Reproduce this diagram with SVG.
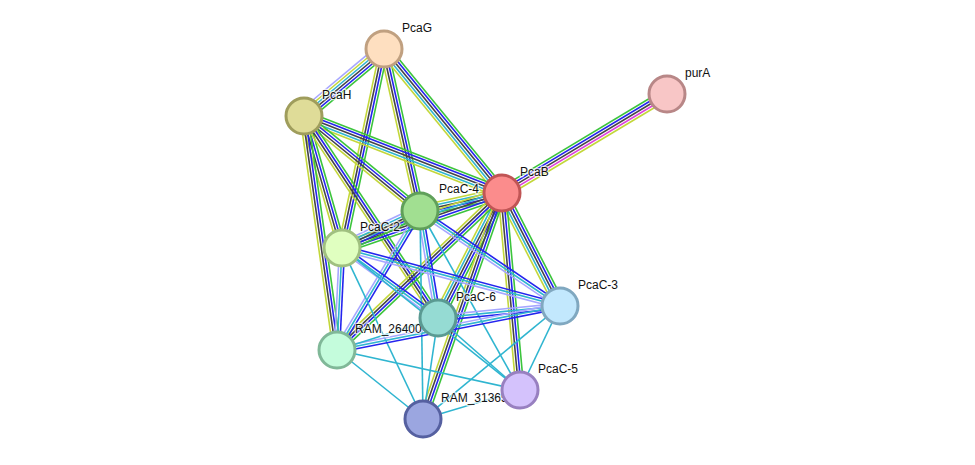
<svg xmlns="http://www.w3.org/2000/svg" width="975" height="465" viewBox="0 0 975 465">
<style>
line{stroke-width:1.6;fill:none}
.g{stroke:#3cc43c}.b{stroke:#2424ee}.k{stroke:#454545}.c{stroke:#2fb5d0}.y{stroke:#c3d73a}.h{stroke:#a6a6ff}.m{stroke:#dd3fdd}
.n{stroke-width:3}
text{font-family:"Liberation Sans",Arial,sans-serif;font-size:12px;fill:#111;stroke:#fff;stroke-width:2.5;stroke-opacity:0.7;paint-order:stroke}
</style>
<rect width="975" height="465" fill="#fff"/>
<g id="edges">
<g transform="translate(384,49) rotate(140.06)"><line class="g" x2="104.35" y1="-6.5" y2="-6.5"/><line class="b" x2="104.35" y1="-3.9" y2="-3.9"/><line class="k" x2="104.35" y1="-1.3" y2="-1.3"/><line class="c" x2="104.35" y1="1.3" y2="1.3"/><line class="y" x2="104.35" y1="3.9" y2="3.9"/><line class="h" x2="104.35" y1="6.5" y2="6.5"/></g>
<g transform="translate(384,49) rotate(77.47)"><line class="g" x2="165.95" y1="-3.9" y2="-3.9"/><line class="b" x2="165.95" y1="-1.3" y2="-1.3"/><line class="k" x2="165.95" y1="1.3" y2="1.3"/><line class="y" x2="165.95" y1="3.9" y2="3.9"/></g>
<g transform="translate(384,49) rotate(50.67)"><line class="g" x2="186.17" y1="-5.2" y2="-5.2"/><line class="b" x2="186.17" y1="-2.6" y2="-2.6"/><line class="k" x2="186.17"/><line class="c" x2="186.17" y1="2.6" y2="2.6"/><line class="y" x2="186.17" y1="5.2" y2="5.2"/></g>
<g transform="translate(384,49) rotate(101.92)"><line class="g" x2="203.38" y1="-3.9" y2="-3.9"/><line class="b" x2="203.38" y1="-1.3" y2="-1.3"/><line class="k" x2="203.38" y1="1.3" y2="1.3"/><line class="y" x2="203.38" y1="3.9" y2="3.9"/></g>
<g transform="translate(502,193) rotate(-30.96)"><line class="g" x2="192.42" y1="-5.2" y2="-5.2"/><line class="b" x2="192.42" y1="-2.6" y2="-2.6"/><line class="k" x2="192.42"/><line class="m" x2="192.42" y1="2.6" y2="2.6"/><line class="y" x2="192.42" y1="5.2" y2="5.2"/></g>
<g transform="translate(304,116) rotate(21.25)"><line class="g" x2="212.44" y1="-5.2" y2="-5.2"/><line class="b" x2="212.44" y1="-2.6" y2="-2.6"/><line class="k" x2="212.44"/><line class="c" x2="212.44" y1="2.6" y2="2.6"/><line class="y" x2="212.44" y1="5.2" y2="5.2"/></g>
<g transform="translate(304,116) rotate(39.32)"><line class="g" x2="149.94" y1="-3.9" y2="-3.9"/><line class="b" x2="149.94" y1="-1.3" y2="-1.3"/><line class="k" x2="149.94" y1="1.3" y2="1.3"/><line class="y" x2="149.94" y1="3.9" y2="3.9"/></g>
<g transform="translate(304,116) rotate(73.94)"><line class="g" x2="137.36" y1="-3.9" y2="-3.9"/><line class="b" x2="137.36" y1="-1.3" y2="-1.3"/><line class="k" x2="137.36" y1="1.3" y2="1.3"/><line class="y" x2="137.36" y1="3.9" y2="3.9"/></g>
<g transform="translate(304,116) rotate(81.97)"><line class="g" x2="236.32" y1="-3.9" y2="-3.9"/><line class="b" x2="236.32" y1="-1.3" y2="-1.3"/><line class="k" x2="236.32" y1="1.3" y2="1.3"/><line class="y" x2="236.32" y1="3.9" y2="3.9"/></g>
<g transform="translate(304,116) rotate(56.44)"><line class="g" x2="242.4" y1="-3.9" y2="-3.9"/><line class="b" x2="242.4" y1="-1.3" y2="-1.3"/><line class="k" x2="242.4" y1="1.3" y2="1.3"/><line class="y" x2="242.4" y1="3.9" y2="3.9"/></g>
<g transform="translate(502,193) rotate(167.62)"><line class="g" x2="83.95" y1="-5.2" y2="-5.2"/><line class="b" x2="83.95" y1="-2.6" y2="-2.6"/><line class="k" x2="83.95"/><line class="c" x2="83.95" y1="2.6" y2="2.6"/><line class="y" x2="83.95" y1="5.2" y2="5.2"/></g>
<g transform="translate(502,193) rotate(161.03)"><line class="g" x2="169.19" y1="-5.2" y2="-5.2"/><line class="b" x2="169.19" y1="-2.6" y2="-2.6"/><line class="k" x2="169.19"/><line class="c" x2="169.19" y1="2.6" y2="2.6"/><line class="y" x2="169.19" y1="5.2" y2="5.2"/></g>
<g transform="translate(502,193) rotate(62.83)"><line class="g" x2="127.02" y1="-5.2" y2="-5.2"/><line class="b" x2="127.02" y1="-2.6" y2="-2.6"/><line class="k" x2="127.02"/><line class="c" x2="127.02" y1="2.6" y2="2.6"/><line class="y" x2="127.02" y1="5.2" y2="5.2"/></g>
<g transform="translate(502,193) rotate(117.11)"><line class="g" x2="140.43" y1="-5.2" y2="-5.2"/><line class="b" x2="140.43" y1="-2.6" y2="-2.6"/><line class="k" x2="140.43"/><line class="c" x2="140.43" y1="2.6" y2="2.6"/><line class="y" x2="140.43" y1="5.2" y2="5.2"/></g>
<g transform="translate(502,193) rotate(136.42)"><line class="g" x2="227.76" y1="-3.9" y2="-3.9"/><line class="b" x2="227.76" y1="-1.3" y2="-1.3"/><line class="k" x2="227.76" y1="1.3" y2="1.3"/><line class="y" x2="227.76" y1="3.9" y2="3.9"/></g>
<g transform="translate(502,193) rotate(84.78)"><line class="g" x2="197.82" y1="-3.9" y2="-3.9"/><line class="b" x2="197.82" y1="-1.3" y2="-1.3"/><line class="k" x2="197.82" y1="1.3" y2="1.3"/><line class="y" x2="197.82" y1="3.9" y2="3.9"/></g>
<g transform="translate(502,193) rotate(109.27)"><line class="g" x2="239.41" y1="-3.9" y2="-3.9"/><line class="b" x2="239.41" y1="-1.3" y2="-1.3"/><line class="k" x2="239.41" y1="1.3" y2="1.3"/><line class="y" x2="239.41" y1="3.9" y2="3.9"/></g>
<g transform="translate(420,211) rotate(154.62)"><line class="g" x2="86.33" y1="-5.2" y2="-5.2"/><line class="b" x2="86.33" y1="-2.6" y2="-2.6"/><line class="k" x2="86.33"/><line class="c" x2="86.33" y1="2.6" y2="2.6"/><line class="h" x2="86.33" y1="5.2" y2="5.2"/></g>
<g transform="translate(420,211) rotate(34.16)"><line class="b" x2="169.19" y1="-2.6" y2="-2.6"/><line class="c" x2="169.19"/><line class="h" x2="169.19" y1="2.6" y2="2.6"/></g>
<g transform="translate(420,211) rotate(80.45)"><line class="b" x2="108.5" y1="-2.6" y2="-2.6"/><line class="c" x2="108.5"/><line class="h" x2="108.5" y1="2.6" y2="2.6"/></g>
<g transform="translate(420,211) rotate(120.85)"><line class="b" x2="161.9" y1="-2.6" y2="-2.6"/><line class="c" x2="161.9"/><line class="h" x2="161.9" y1="2.6" y2="2.6"/></g>
<g transform="translate(420,211) rotate(89.17)"><line class="c" x2="208.02"/></g>
<g transform="translate(420,211) rotate(60.81)"><line class="c" x2="205.04"/></g>
<g transform="translate(342,248) rotate(14.9)"><line class="b" x2="225.58" y1="-2.6" y2="-2.6"/><line class="c" x2="225.58"/><line class="h" x2="225.58" y1="2.6" y2="2.6"/></g>
<g transform="translate(342,248) rotate(36.1)"><line class="b" x2="118.81" y1="-2.6" y2="-2.6"/><line class="c" x2="118.81"/><line class="h" x2="118.81" y1="2.6" y2="2.6"/></g>
<g transform="translate(342,248) rotate(92.81)"><line class="b" x2="102.12" y1="-2.6" y2="-2.6"/><line class="c" x2="102.12"/><line class="h" x2="102.12" y1="2.6" y2="2.6"/></g>
<g transform="translate(342,248) rotate(64.65)"><line class="c" x2="189.21"/></g>
<g transform="translate(342,248) rotate(38.58)"><line class="c" x2="227.7"/></g>
<g transform="translate(560,306) rotate(174.38)"><line class="b" x2="122.59" y1="-2.6" y2="-2.6"/><line class="c" x2="122.59"/><line class="h" x2="122.59" y1="2.6" y2="2.6"/></g>
<g transform="translate(560,306) rotate(168.84)"><line class="b" x2="227.3" y1="-2.6" y2="-2.6"/><line class="c" x2="227.3"/><line class="h" x2="227.3" y1="2.6" y2="2.6"/></g>
<g transform="translate(560,306) rotate(115.46)"><line class="c" x2="93.04"/></g>
<g transform="translate(560,306) rotate(140.48)"><line class="c" x2="177.59"/></g>
<g transform="translate(438,318) rotate(162.42)"><line class="c" x2="105.95"/></g>
<g transform="translate(438,318) rotate(41.28)"><line class="c" x2="109.12"/></g>
<g transform="translate(438,318) rotate(98.45)"><line class="c" x2="102.11"/></g>
<g transform="translate(337,350) rotate(12.33)"><line class="c" x2="187.32"/></g>
<g transform="translate(337,350) rotate(38.74)"><line class="c" x2="110.26"/></g>
<g transform="translate(423,419) rotate(-16.64)"><line class="c" x2="101.24"/></g>
</g>
<g id="PcaH"><circle class="n" cx="304" cy="116" r="18" fill="#dfdc98" stroke="#9f9d5c"/><text x="322" y="99">PcaH</text></g>
<g id="PcaG"><circle class="n" cx="384" cy="49" r="18" fill="#fedfc0" stroke="#c0a080"/><text x="402" y="32">PcaG</text></g>
<g id="purA"><circle class="n" cx="667" cy="94" r="18" fill="#f8c6c6" stroke="#b88787"/><text x="685" y="77">purA</text></g>
<g id="RAM_26400"><circle class="n" cx="337" cy="350" r="18" fill="#c4fcdc" stroke="#80b898"/><text x="355" y="333">RAM_26400</text></g>
<g id="PcaC-6"><circle class="n" cx="438" cy="318" r="18" fill="#95dbd3" stroke="#5a9a92"/><text x="456" y="301">PcaC-6</text></g>
<g id="RAM_31365"><circle class="n" cx="423" cy="419" r="18" fill="#9ba6e0" stroke="#5560a0"/><text x="441" y="402">RAM_31365</text></g>
<g id="PcaC-5"><circle class="n" cx="520" cy="390" r="18" fill="#d4c2fc" stroke="#9880c0"/><text x="538" y="373">PcaC-5</text></g>
<g id="PcaC-2"><circle class="n" cx="342" cy="248" r="18" fill="#e0ffc0" stroke="#a0c080"/><text x="360" y="231">PcaC-2</text></g>
<g id="PcaC-3"><circle class="n" cx="560" cy="306" r="18" fill="#c2e8fd" stroke="#80a8c0"/><text x="578" y="289">PcaC-3</text></g>
<g id="PcaC-4"><circle class="n" cx="420" cy="211" r="18" fill="#a1df91" stroke="#60a05a"/><text x="439" y="193">PcaC-4</text></g>
<g id="PcaB"><circle class="n" cx="502" cy="193" r="18" fill="#fb8c8c" stroke="#c05555"/><text x="520" y="176">PcaB</text></g>
</svg>
